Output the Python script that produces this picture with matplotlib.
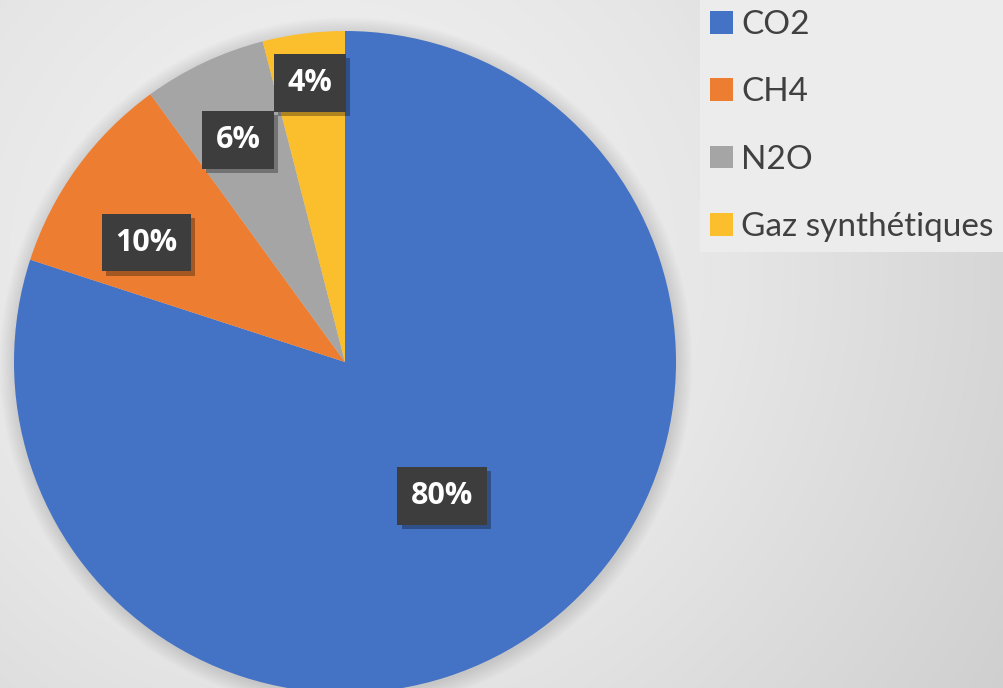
import numpy as np
import matplotlib.pyplot as plt
import matplotlib.patheffects as pe
from matplotlib.patches import Patch, Circle
from matplotlib.colors import LinearSegmentedColormap

labels = ["CO2", "CH4", "N2O", "Gaz synthétiques"]
shares = [80, 10, 6, 4]
pct_text = ["80%", "10%", "6%", "4%"]
colors = ["#4472C4", "#ED7D31", "#A5A5A5", "#FBBE2C"]

W, H = 1004, 688
fig = plt.figure(figsize=(W / 100, H / 100), dpi=100)
ax = fig.add_axes([0, 0, 1, 1])

# radial grey background
yy, xx = np.mgrid[0:H, 0:W]
dist = np.hypot(xx - 330, (H - yy) - 420) / 800.0
bg_cmap = LinearSegmentedColormap.from_list("bg", ["#f5f5f5", "#e6e6e6", "#cfcfcf"])
ax.imshow(np.clip(dist, 0, 1), cmap=bg_cmap, vmin=0, vmax=1,
          extent=(0, W, 0, H), origin="upper", zorder=0)

cx, cy, r = 345, H - 362, 331

# soft halo behind the pie
for i in range(10):
    ax.add_patch(Circle((cx + 1, cy - 2), r + 1 + i * 1.6, color="black",
                        alpha=0.010, lw=0, zorder=1))

wedges, _ = ax.pie(shares, colors=colors, startangle=90, counterclock=False,
                   center=(cx, cy), radius=r, frame=True,
                   wedgeprops=dict(linewidth=0, zorder=2))

# label placement: radial factor and angle shift per wedge (Excel best fit)
lab_dist = [0.50, 0.70, 0.745, 0.85]
lab_shift = [0, 5, 0.5, 0]
for w, txt, d, s in zip(wedges, pct_text, lab_dist, lab_shift):
    ang = np.deg2rad((w.theta1 + w.theta2) / 2 + s)
    x = cx + d * r * np.cos(ang)
    y = cy + d * r * np.sin(ang)
    t = ax.text(x, y, txt, ha="center", va="center", fontsize=22,
                family="Open Sans", weight="bold", color="white", zorder=4,
                bbox=dict(boxstyle="square,pad=0.45", fc="#3d3d3d", ec="none"))
    t.get_bbox_patch().set_path_effects(
        [pe.SimplePatchShadow(offset=(3, -3), shadow_rgbFace="black", alpha=0.3),
         pe.Normal()])

handles = [Patch(facecolor=c, edgecolor="none") for c in colors]
leg = ax.legend(handles, labels, loc="upper left", bbox_to_anchor=(700 / W, 1.0),
                bbox_transform=fig.transFigure, frameon=True, fancybox=False,
                facecolor="#ececec", edgecolor="none", framealpha=1,
                prop=dict(family="Lato", size=24), handlelength=0.68,
                handleheight=0.68, handletextpad=0.25, labelspacing=1.12,
                borderpad=0.3, borderaxespad=0)
for t in leg.get_texts():
    t.set_color("#404040")

ax.set_xlim(0, W)
ax.set_ylim(0, H)
ax.set_aspect("auto")
ax.axis("off")

fig.savefig("out.png", dpi=100)
